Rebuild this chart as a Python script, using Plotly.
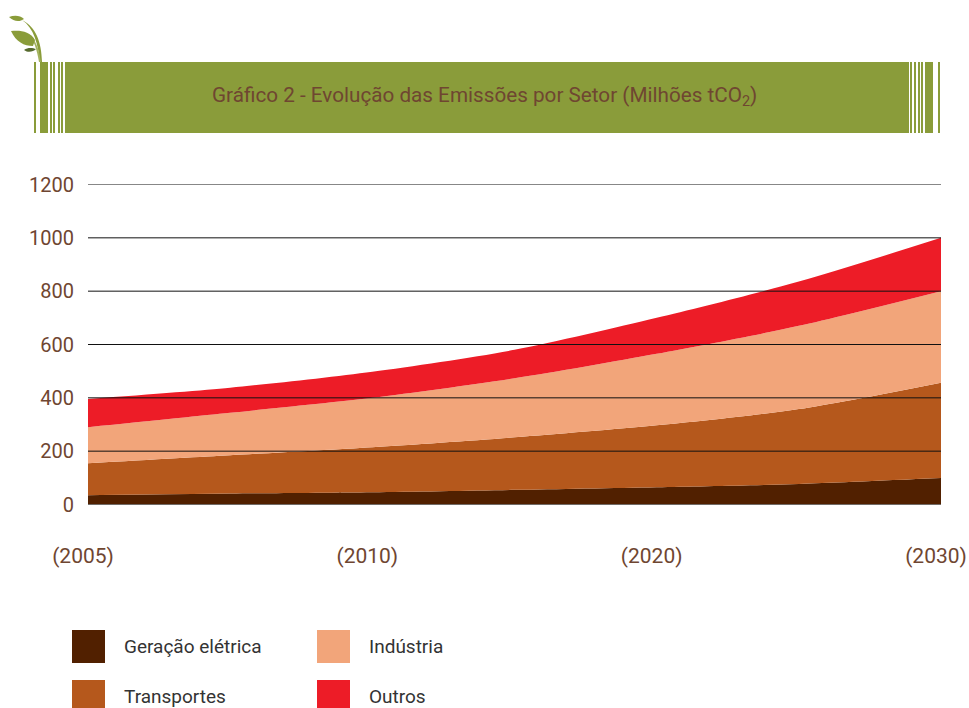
import plotly.graph_objects as go

W, H = 969, 708

# --- data ---
positions = [0, 0.5, 1, 1.5, 2, 2.5, 3]
tick_positions = [0, 1, 2, 3]
tick_labels = ["(2005)", "(2010)", "(2020)", "(2030)"]
y_ticks = [0, 200, 400, 600, 800, 1000, 1200]

geracao = [35, 41, 46, 55, 65, 77, 99]
transportes = [120, 144, 169, 197, 232, 281, 358]
industria = [135, 159, 185, 221, 268, 312, 343]
outros = [106, 94, 98, 107, 135, 166, 200]

series_names = ["Geração elétrica", "Transportes", "Indústria", "Outros"]
series_values = [geracao, transportes, industria, outros]
series_colors = ["#512000", "#b5581c", "#f2a57a", "#ed1c27"]

title_text = "Gráfico 2 - Evolução das Emissões por Setor (Milhões tCO<sub>2</sub>)"

FONT = "Roboto"
BROWN = "#6f4631"
GREEN = "#8a9c3a"

# --- helpers (page pixels -> paper fractions) ---
def px(x):
    return x / W

def py(y):
    return 1 - y / H

def path(*parts):
    out = []
    for p in parts:
        if isinstance(p, str):
            out.append(p)
        else:
            out.append(f"{px(p[0]):.5f},{py(p[1]):.5f}")
    return " ".join(out)

fig = go.Figure()

for name, vals, col in zip(series_names, series_values, series_colors):
    fig.add_trace(go.Scatter(
        x=positions, y=vals, name=name, mode="lines",
        stackgroup="one", line=dict(width=0, shape="spline", smoothing=0.8, color=col),
        fillcolor=col, showlegend=False,
    ))

shapes = []

# banner
for x0, x1 in [(34, 36), (40, 48), (50, 52), (53, 55), (58, 60), (61, 63), (65, 909),
               (910, 912), (914, 916), (918, 920), (921, 923), (925, 933), (938, 940)]:
    shapes.append(dict(type="rect", xref="paper", yref="paper", x0=px(x0), x1=px(x1),
                       y0=py(133), y1=py(62), fillcolor=GREEN, line_width=0, layer="below"))

# leaf ornament
leaf_paths = [
    (path("M", (42, 62), "C", (41.5, 42), (36, 27), (22, 20), "C", (34, 28), (38, 44), (40, 62), "Z"), GREEN),
    (path("M", (41, 62), "C", (39, 50), (36, 38), (27, 33), "C", (34, 39), (37, 50), (39, 62), "Z"), "#a3b35f"),
    (path("M", (9, 17), "C", (14, 15), (20, 15), (24, 19), "C", (20, 22), (14, 22), (9, 17), "Z"), GREEN),
    (path("M", (11, 31), "C", (20, 30), (30, 31), (35, 40), "L", (33, 46), "C", (24, 46), (16, 42), (11, 31), "Z"), GREEN),
    (path("M", (24, 50), "C", (28, 47), (33, 48), (36, 49), "C", (33, 52), (28, 53), (24, 50), "Z"), "#566a2e"),
]
for d, c in leaf_paths:
    shapes.append(dict(type="path", xref="paper", yref="paper", path=d, fillcolor=c, line_width=0))

# gridlines drawn over the areas
for v in y_ticks:
    shapes.append(dict(type="line", xref="paper", yref="y", x0=px(88), x1=px(941), y0=v, y1=v,
                       line=dict(color="#111111", width=1), layer="above"))

annotations = [dict(
    text=title_text, xref="paper", yref="paper", x=px(485), y=py(97),
    xanchor="center", yanchor="middle", showarrow=False,
    font=dict(family=FONT, size=20.7, color=BROWN),
)]

# legend
legend_slots = [(72, 630), (72, 680), (317, 630), (317, 680)]
for (lx, ly), name, col in zip(legend_slots, series_names, series_colors):
    shapes.append(dict(type="rect", xref="paper", yref="paper", x0=px(lx), x1=px(lx + 33),
                       y0=py(ly + 33 if ly == 630 else ly + 28), y1=py(ly), fillcolor=col, line_width=0))
    annotations.append(dict(
        text=name, xref="paper", yref="paper", x=px(lx + 49.5), y=py(646 if ly == 630 else 696),
        xanchor="left", yanchor="middle", showarrow=False,
        font=dict(family=FONT, size=19, color="#333333"),
    ))

fig.update_layout(
    width=W, height=H, autosize=False,
    margin=dict(l=0, r=0, t=0, b=0, pad=0),
    paper_bgcolor="white", plot_bgcolor="white",
    shapes=shapes, annotations=annotations, showlegend=False,
    font=dict(family=FONT),
    xaxis=dict(
        domain=[px(88), px(941)], range=[0, 3], showgrid=False, zeroline=False, showline=False,
        tickmode="array", tickvals=tick_positions, ticktext=tick_labels, ticks="",
        ticklabelstandoff=36, ticklabelshift=-5, automargin=False,
        tickfont=dict(family=FONT, size=21, color=BROWN), anchor="y",
    ),
    yaxis=dict(
        domain=[py(504.5), py(184.5)], range=[0, 1200], showgrid=False, zeroline=False, showline=False,
        tickmode="array", tickvals=y_ticks, ticks="", ticklabelstandoff=13, automargin=False,
        tickfont=dict(family=FONT, size=20, color=BROWN), anchor="x",
    ),
)

fig.write_html("out.html", config={"displayModeBar": False},
               post_script="document.body.style.margin='0';document.documentElement.style.overflow='hidden';")
